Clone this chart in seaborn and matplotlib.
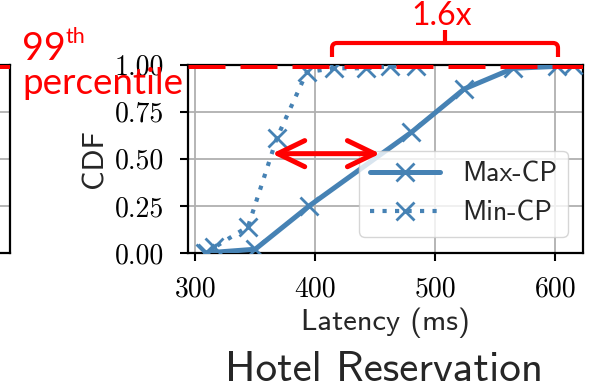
import matplotlib
matplotlib.use("Agg")
import matplotlib.pyplot as plt
import seaborn as sns
import pandas as pd
from matplotlib.path import Path
from matplotlib.patches import PathPatch
from matplotlib.transforms import Affine2D
from matplotlib.font_manager import FontProperties

# Latency CDF for the two critical-path placements
max_cp_latency = [308, 350, 395, 480, 524, 565, 601, 615]
max_cp_cdf = [0.00, 0.02, 0.25, 0.64, 0.87, 0.98, 0.99, 1.00]
min_cp_latency = [310, 316, 344, 368, 393, 416, 442, 462, 484]
min_cp_cdf = [0.00, 0.03, 0.14, 0.61, 0.96, 0.98, 0.98, 0.99, 0.99]

series_names = ["Max-CP", "Min-CP"]
x_ticks = [300, 400, 500, 600]
y_ticks = [0.00, 0.25, 0.50, 0.75, 1.00]
percentile_level = 0.99
arrow_span = [364, 454]
arrow_level = 0.527
speedup_label = "1.6x"
panel_title = "Hotel Reservation"

BLUE = "#4682b4"
RED = "#ff0000"
W, H = 590, 391

sns.set_theme(style="whitegrid", rc={
    "axes.edgecolor": "black",
    "axes.linewidth": 1.6,
    "grid.color": "#b0b0b0",
    "grid.linewidth": 1.3,
    "xtick.bottom": True,
    "ytick.left": True,
    "xtick.major.size": 6,
    "ytick.major.size": 6,
    "xtick.major.width": 1.5,
    "ytick.major.width": 1.5,
    "xtick.color": "black",
    "ytick.color": "black",
})
plt.rcParams["font.family"] = ["cmss10", "DejaVu Sans"]
plt.rcParams["axes.formatter.use_mathtext"] = True

fig = plt.figure(figsize=(W / 100, H / 100), dpi=100)
px = Affine2D().scale(1 / W, -1 / H).translate(0, 1) + fig.transFigure

left, right = 188 / W, 583 / W
bottom, top = 1 - 253 / H, 1 - 64.5 / H
ax = fig.add_axes([left, bottom, right - left, top - bottom])

# neighbouring panel, only its right edge falls inside the figure
ax0 = fig.add_axes([-0.3, bottom, 0.3 + 10 / W, top - bottom])
ax0.set_ylim(0, 1)
ax0.set_yticks(y_ticks)
ax0.set_xticks([])
ax0.tick_params(left=False, labelleft=False, bottom=False)
ax0.axhline(percentile_level, color=RED, lw=3.6, dashes=(7.4, 3), zorder=6)

df_max = pd.DataFrame({"latency": max_cp_latency, "cdf": max_cp_cdf})
df_min = pd.DataFrame({"latency": min_cp_latency, "cdf": min_cp_cdf})

sns.lineplot(data=df_max, x="latency", y="cdf", ax=ax, color=BLUE, lw=3.6,
             marker="x", ms=13, mew=2, mec=BLUE, label=series_names[0],
             sort=False, zorder=3)
sns.lineplot(data=df_min, x="latency", y="cdf", ax=ax, color=BLUE, lw=3,
             linestyle=(0, (1, 2)), marker="x", ms=13, mew=2, mec=BLUE,
             label=series_names[1], sort=False, zorder=3)

ax.axhline(percentile_level, color=RED, lw=3.6, dashes=(7.4, 3), zorder=6)

ax.set_xlim(294, 623)
ax.set_ylim(0, 1)
ax.set_xticks(x_ticks)
ax.set_yticks(y_ticks)
ax.set_xticklabels([f"{v:d}" for v in x_ticks], fontfamily="cmr10", fontsize=20)
ax.set_yticklabels([f"{v:.2f}" for v in y_ticks], fontfamily="cmr10", fontsize=20)
ax.tick_params(axis="x", pad=11)
ax.tick_params(axis="y", pad=11)
ax.set_xlabel("Latency (ms)", fontsize=22, labelpad=3)
ax.set_ylabel("CDF", fontsize=22, labelpad=5)

leg = ax.legend(loc="lower right", bbox_to_anchor=(0.962, 0.085),
                borderaxespad=0, prop=FontProperties(family="cmss10", size=20),
                handlelength=2.5, fancybox=True, framealpha=0.8,
                edgecolor="0.8")
leg.set_zorder(5)

ax.annotate("", xy=(arrow_span[0], arrow_level), xytext=(arrow_span[1], arrow_level),
            arrowprops=dict(arrowstyle="<->,head_length=0.97,head_width=0.47",
                            mutation_scale=20, lw=3.6, color=RED,
                            shrinkA=0, shrinkB=0),
            zorder=10)

# brace spanning the two tail latencies
brace = Path(
    [(332, 57), (332, 48), (332, 43), (337, 43), (553, 43), (558, 43), (558, 48), (558, 57)],
    [Path.MOVETO, Path.LINETO, Path.CURVE3, Path.CURVE3, Path.LINETO,
     Path.CURVE3, Path.CURVE3, Path.LINETO])
fig.add_artist(PathPatch(brace, transform=px, fill=False, edgecolor=RED, lw=3,
                         capstyle="butt", joinstyle="round"))
stub = Path([(445, 43), (445, 30)], [Path.MOVETO, Path.LINETO])
fig.add_artist(PathPatch(stub, transform=px, fill=False, edgecolor=RED, lw=3))

fig.text(442, 25, speedup_label, transform=px, color=RED, fontsize=23,
         family="Lato", ha="center", va="baseline")
fig.text(22, 60, "99", transform=px, color=RED, fontsize=27, family="Lato",
         ha="left", va="baseline")
fig.text(65, 43, "th", transform=px, color=RED, fontsize=15.5, family="Lato",
         ha="left", va="baseline")
fig.text(22, 94, "percentile", transform=px, color=RED, fontsize=26.5,
         family="Lato", ha="left", va="baseline")

fig.text(384, 381, panel_title, transform=px, fontsize=31, family="cmss10",
         ha="center", va="baseline")

fig.savefig("out.png", dpi=100)
